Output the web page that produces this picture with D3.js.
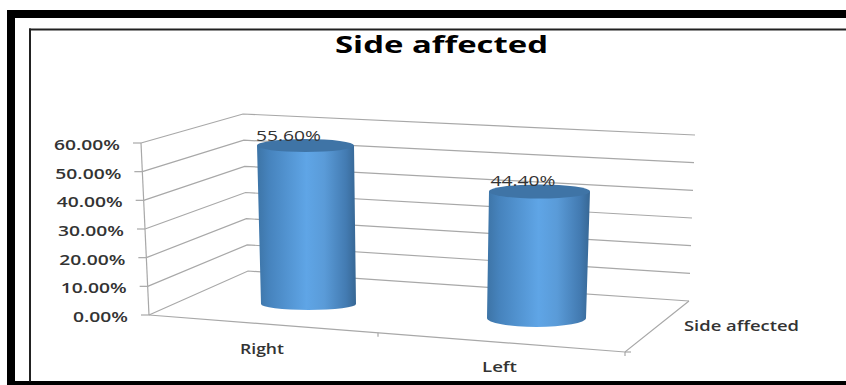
<!DOCTYPE html>
<html>
<head>
<meta charset="utf-8">
<script src="https://cdn.jsdelivr.net/npm/d3@7/dist/d3.min.js"></script>
<style>
  html, body { margin: 0; padding: 0; background: #fff; }
  svg { display: block; }
  text { font-family: "Open Sans", "Noto Sans", sans-serif; }
</style>
</head>
<body>
<svg id="chart" width="846" height="385"></svg>
<script>
const chartTitle = "Side affected";
const categories = ["Right", "Left"];
const seriesName = "Side affected";
const seriesValues = [55.6, 44.4];
const valueTicks = [0, 10, 20, 30, 40, 50, 60];

const svg = d3.select("#chart");
const domain = [0, 60];

// Each corner of the 3D box gets its own pair of scales, since perspective
// makes the vertical edges lean and shrink slightly.
const frontY = d3.scaleLinear().domain(domain).range([315, 143]);
const frontX = d3.scaleLinear().domain(domain).range([149, 141]);
const backY  = d3.scaleLinear().domain(domain).range([271, 114]);
const backX  = d3.scaleLinear().domain(domain).range([248, 243]);
const rightY = d3.scaleLinear().domain(domain).range([301, 135]);
const rightX = d3.scaleLinear().domain(domain).range([689, 695]);

// Bar height per percentage point along the cylinder's depth plane.
const barHeight = d3.scaleLinear().domain(domain).range([0, 171]);

const frontEdge = d3.scaleBand().domain(categories).range([149, 625]);
const frontEdgeY = d3.scaleLinear().domain([149, 625]).range([315, 352]);

const barGeom = d3.scaleOrdinal().domain(categories).range([
  { cx: 308.5, base: 304, rBase: 47.5, ryBase: 6, rTop: 48.5, ryTop: 6.5, lean: -3 },
  { cx: 536.5, base: 318, rBase: 49.5, ryBase: 9, rTop: 50.5, ryTop: 7, lean: 3 }
]);

const defs = svg.append("defs");
const grad = defs.append("linearGradient").attr("id", "barFill")
  .attr("x1", 0).attr("x2", 1).attr("y1", 0).attr("y2", 0);
[[0, "#3d74a6"], [0.12, "#4683bd"], [0.5, "#5fa5e6"], [0.68, "#5a9bd8"], [0.9, "#437bb2"], [1, "#376794"]]
  .forEach(([o, c]) => grad.append("stop").attr("offset", o).attr("stop-color", c));

// Walls and floor
const gridColor = "#a8a8a8";
const grid = svg.append("g").attr("fill", "none").attr("stroke", gridColor).attr("stroke-width", 1.2);
grid.selectAll("path.wall").data(valueTicks).join("path").attr("class", "wall")
  .attr("d", t => `M${frontX(t)},${frontY(t)}L${backX(t)},${backY(t)}L${rightX(t)},${rightY(t)}`);

const floorEnd = { x: 625, y: 352 };
grid.append("path").attr("d", `M${frontX(0)},${frontY(0)}L${floorEnd.x},${floorEnd.y}L${rightX(0)},${rightY(0)}`);
grid.append("path").attr("d", `M${frontX(60)},${frontY(60)}L${frontX(0)},${frontY(0)}`);

// Ticks on the value and category edges
grid.selectAll("line.vtick").data(valueTicks).join("line").attr("class", "vtick")
  .attr("x1", t => frontX(t) - 8).attr("x2", t => frontX(t))
  .attr("y1", t => frontY(t)).attr("y2", t => frontY(t));
const catTicks = [frontEdge.step() + 149 - 9, floorEnd.x];
grid.selectAll("line.ctick").data(catTicks).join("line").attr("class", "ctick")
  .attr("x1", d => d).attr("x2", d => d)
  .attr("y1", d => frontEdgeY(d)).attr("y2", d => frontEdgeY(d) + 4);
grid.append("line").attr("x1", 625).attr("x2", 631).attr("y1", 352).attr("y2", 352);

// Cylinders
const bars = svg.append("g").selectAll("g").data(categories).join("g");
bars.append("path").attr("fill", "url(#barFill)").attr("d", (c, i) => {
  const g = barGeom(c), top = g.base - barHeight(seriesValues[i]), tx = g.cx + g.lean;
  return `M${tx - g.rTop},${top}L${g.cx - g.rBase},${g.base}` +
    `A${g.rBase},${g.ryBase} 0 0 0 ${g.cx + g.rBase},${g.base}` +
    `L${tx + g.rTop},${top}Z`;
});
bars.append("ellipse").attr("fill", "#3f74a6")
  .attr("cx", c => barGeom(c).cx + barGeom(c).lean)
  .attr("cy", (c, i) => barGeom(c).base - barHeight(seriesValues[i]))
  .attr("rx", c => barGeom(c).rTop)
  .attr("ry", c => barGeom(c).ryTop);

// Data labels sit just above each cylinder's lid
const pct = v => v.toFixed(2) + "%";
svg.append("g").attr("fill", "#333").attr("font-size", 15).attr("text-anchor", "middle")
  .selectAll("text").data(categories).join("text")
  .attr("x", (c, i) => [288.5, 523][i])
  .attr("y", (c, i) => barGeom(c).base - barHeight(seriesValues[i]) - 5)
  .attr("textLength", 65).attr("lengthAdjust", "spacingAndGlyphs")
  .text((c, i) => pct(seriesValues[i]));

// Value axis labels
svg.append("g").attr("fill", "#333").attr("font-size", 15).attr("font-weight", 600).attr("text-anchor", "end")
  .selectAll("text").data(valueTicks).join("text")
  .attr("x", t => frontX(t) - 21)
  .attr("y", t => frontY(t) + 7)
  .attr("textLength", t => t === 0 ? 55 : 66).attr("lengthAdjust", "spacingAndGlyphs")
  .text(pct);

// Category and series labels
svg.append("g").attr("fill", "#333").attr("font-size", 13.5).attr("font-weight", 600).attr("text-anchor", "middle")
  .selectAll("text").data(categories).join("text")
  .attr("x", (c, i) => [262, 499.5][i])
  .attr("y", (c, i) => [354, 372][i])
  .attr("textLength", (c, i) => [44, 35][i]).attr("lengthAdjust", "spacingAndGlyphs")
  .text(c => c);
svg.append("text").attr("x", 684).attr("y", 331).attr("fill", "#333")
  .attr("font-size", 13.5).attr("font-weight", 600)
  .attr("textLength", 115).attr("lengthAdjust", "spacingAndGlyphs").text(seriesName);

// Title
svg.append("text").attr("x", 441.5).attr("y", 52.5).attr("text-anchor", "middle")
  .attr("fill", "#000").attr("font-size", 24).attr("font-weight", 700)
  .attr("textLength", 213).attr("lengthAdjust", "spacingAndGlyphs").text(chartTitle);

// Slide border: heavy outer band and thin inner rule
const frame = svg.append("g").attr("fill", "#000");
frame.append("rect").attr("x", 7).attr("y", 10).attr("width", 839).attr("height", 8);
frame.append("rect").attr("x", 7).attr("y", 10).attr("width", 8).attr("height", 375);
frame.append("rect").attr("x", 7).attr("y", 381).attr("width", 839).attr("height", 4);
frame.append("rect").attr("x", 29).attr("y", 28.5).attr("width", 817).attr("height", 2).attr("fill", "#222");
frame.append("rect").attr("x", 29).attr("y", 28.5).attr("width", 2).attr("height", 353).attr("fill", "#222");
</script>
</body>
</html>
